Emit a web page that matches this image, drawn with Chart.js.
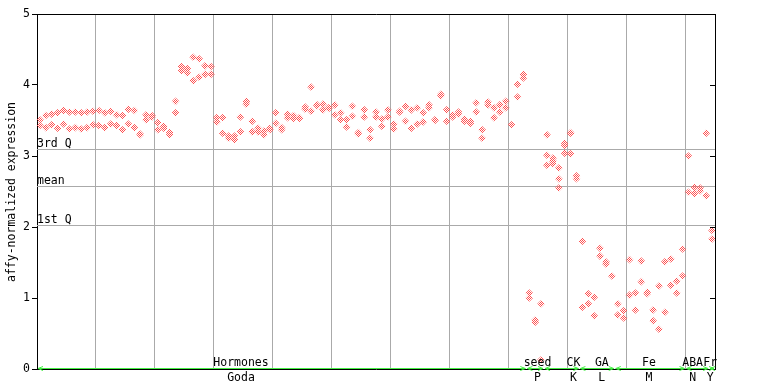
<!DOCTYPE html>
<html><head><meta charset="utf-8">
<script src="https://cdn.jsdelivr.net/npm/chart.js@4"></script>
<style>html,body{margin:0;padding:0;background:#fff;}canvas{display:block;}</style>
</head><body>
<canvas id="c" width="768" height="384"></canvas>
<script>
// ---- data ----
const sampleCount = 115;
const rep1 = [3.51,3.57,3.59,3.61,3.64,3.62,3.62,3.61,3.62,3.63, 3.64,3.61,3.63,3.58,3.57,3.66,3.64,3.31,3.58,3.57,
 3.47,3.42,3.33,3.77,4.26,4.23,4.39,4.37,4.27,4.26, 3.54,3.54,3.28,3.28,3.55,3.77,3.49,3.39,3.35,3.39,
 3.61,3.40,3.59,3.57,3.54,3.69,3.97,3.72,3.73,3.68, 3.72,3.61,3.51,3.70,3.33,3.65,3.37,3.62,3.52,3.65,
 3.45,3.63,3.70,3.65,3.68,3.61,3.72,3.51,3.87,3.65, 3.58,3.62,3.52,3.49,3.75,3.37,3.76,3.68,3.72,3.77,
 3.44,4.01,4.15,1.07,0.69,0.92,3.30,2.97,2.83,3.18, 3.33,2.72,1.80,1.06,1.01,1.70,1.51,1.31,0.92,0.82,
 1.54,1.07,1.52,1.08,0.83,1.17,1.51,1.55,1.24,1.69, 3.00,2.56,2.55,3.32,1.95];
const rep2 = [3.43,3.40,3.44,3.39,3.45,3.38,3.40,3.38,3.40,3.44, 3.43,3.40,3.45,3.43,3.37,3.45,3.40,3.30,3.51,3.55,
 3.37,3.39,3.30,3.61,4.20,4.17,4.06,4.11,4.15,4.15, 3.48,3.32,3.25,3.23,3.34,3.73,3.34,3.34,3.30,3.37,
 3.46,3.37,3.54,3.53,3.53,3.66,3.63,3.71,3.65,3.67, 3.58,3.51,3.41,3.56,3.31,3.55,3.25,3.55,3.42,3.55,
 3.38,3.62,3.49,3.39,3.45,3.48,3.68,3.50,3.85,3.49, 3.55,3.59,3.49,3.46,3.62,3.25,3.72,3.54,3.62,3.68,
 null,3.83,4.10,1.00,0.66,0.13,3.01,2.93,2.68,3.15, 3.32,2.68,0.87,0.92,0.75,1.59,1.48,null,0.76,0.72,
 1.04,0.83,1.23,1.06,0.68,0.56,0.80,1.18,1.07,1.31, 2.49,2.47,2.51,2.44,1.83];
const rep3Index = [86,87,88,89,90];
const rep3Values = [2.87,2.89,2.55,3.04,3.03];

const yTicks = [0,1,2,3,4,5];
const refLabels = ['3rd Q','mean','1st Q'];
const refValues = [3.10, 2.58, 2.03];

const sectionNames = ['Hormones','seed','CK','GA','Fe','ABA','Fr'];
const sectionCodes = ['Goda','P','K','L','M','N','Y'];
const sectionStart = [0,83,86,92,98,110,114];
const sectionEnd   = [82,85,91,97,109,113,114];
const sectionLabelAt = [34.1,84.4,90.5,95.3,103.3,110.7,113.7];
const yTitle = 'affy-normalized expression';

// ---- style ----
const FONT = '11.5px "DejaVu Sans Mono", monospace';
const RED = '#ff5050';
const pc = document.createElement('canvas'); pc.width = 2; pc.height = 2;
const pg = pc.getContext('2d'); pg.fillStyle = RED; pg.fillRect(0,0,1,1); pg.fillRect(1,1,1,1);
const ctxMain = document.getElementById('c').getContext('2d');
const pattern = ctxMain.createPattern(pc, 'repeat');

function pts(arr){ const o=[]; arr.forEach((v,i)=>{ if(v!==null) o.push({x:i,y:v}); }); return o; }
const ds = (data) => ({data, pointStyle:'rectRot', pointRadius:3.8, pointHoverRadius:3.8,
  backgroundColor:pattern, borderWidth:0, showLine:false});

const overlay = {
  id:'overlay',
  beforeDatasetsDraw(chart){
    const {ctx, chartArea:a, scales:{y}} = chart;
    ctx.save();
    ctx.strokeStyle = '#aaaaaa'; ctx.lineWidth = 1;
    ctx.font = FONT; ctx.fillStyle = '#000'; ctx.textAlign='left'; ctx.textBaseline='alphabetic';
    refValues.forEach((v,i)=>{
      const py = Math.round(y.getPixelForValue(v)) + 0.5;
      ctx.beginPath(); ctx.moveTo(a.left, py); ctx.lineTo(a.right, py); ctx.stroke();
      ctx.fillText(refLabels[i], a.left, py - 3);
    });
    ctx.restore();
  },
  afterDraw(chart){
    const {ctx, chartArea:a, scales:{x,y}} = chart;
    ctx.save();
    ctx.strokeStyle = '#000'; ctx.lineWidth = 1;
    // top and right border
    ctx.beginPath();
    ctx.moveTo(a.left, a.top + 0.5); ctx.lineTo(a.right + 0.5, a.top + 0.5);
    ctx.moveTo(a.right + 0.5, a.top); ctx.lineTo(a.right + 0.5, a.bottom + 1);
    ctx.moveTo(a.left, a.bottom + 0.5); ctx.lineTo(a.right + 1, a.bottom + 0.5);
    ctx.stroke();
    // right inward ticks
    ctx.beginPath();
    yTicks.forEach(v=>{
      const py = Math.round(y.getPixelForValue(v)) + 0.5;
      ctx.moveTo(a.right - 5, py); ctx.lineTo(a.right, py);
    });
    ctx.stroke();
    // green section arrows
    ctx.strokeStyle = '#44ee44'; ctx.lineWidth = 1;
    const gy = a.bottom - 0.5;
    sectionStart.forEach((s,i)=>{
      let x0 = x.getPixelForValue(s - 0.5) + 1, x1 = x.getPixelForValue(sectionEnd[i] + 0.5) - 1;
      x0 = Math.max(x0, a.left + 1); x1 = Math.min(x1, a.right - 1);
      ctx.beginPath();
      ctx.moveTo(x0, gy); ctx.lineTo(x1, gy);
      ctx.moveTo(x0 + 5, gy - 2); ctx.lineTo(x0, gy); ctx.lineTo(x0 + 5, gy + 2);
      ctx.moveTo(x1 - 5, gy - 2); ctx.lineTo(x1, gy); ctx.lineTo(x1 - 5, gy + 2);
      ctx.stroke();
    });
    // section labels
    ctx.font = FONT; ctx.fillStyle = '#000'; ctx.textAlign = 'center'; ctx.textBaseline = 'alphabetic';
    sectionNames.forEach((n,i)=>{
      const px = x.getPixelForValue(sectionLabelAt[i]);
      ctx.fillText(n, px, a.bottom - 3);
      ctx.fillText(sectionCodes[i], px, a.bottom + 12);
    });
    // y title
    ctx.translate(12, (a.top + a.bottom)/2 + 0.5);
    ctx.rotate(-Math.PI/2);
    ctx.textBaseline = 'middle';
    ctx.fillText(yTitle, 0, 0);
    ctx.restore();
  }
};

new Chart(ctxMain, {
  type:'scatter',
  data:{datasets:[ds(pts(rep1)), ds(pts(rep2)), ds(rep3Index.map((ix,k)=>({x:ix,y:rep3Values[k]})))]},
  options:{
    responsive:false, animation:false, devicePixelRatio:1,
    layout:{padding:{top:14, right:53, left:0, bottom:0}},
    plugins:{legend:{display:false}, tooltip:{enabled:false}},
    scales:{
      x:{type:'linear', min:-0.5, max:sampleCount-0.5,
         afterBuildTicks(s){ const t=[]; for(let v=9.5; v<sampleCount-1; v+=10) t.push({value:v}); s.ticks=t; },
         afterFit(s){ s.height = 15; },
         ticks:{display:false},
         grid:{color:'#aaaaaa', lineWidth:1, drawTicks:false},
         border:{display:false}},
      y:{type:'linear', min:0, max:5,
         afterBuildTicks(s){ s.ticks = yTicks.map(v=>({value:v})); },
         afterFit(s){ s.width = 37; },
         ticks:{font:{family:'"DejaVu Sans Mono", monospace', size:11.5}, color:'#000', padding:2},
         grid:{drawOnChartArea:false, drawTicks:true, tickLength:5, color:'#000'},
         border:{display:true, color:'#000', width:1}}
    }
  },
  plugins:[overlay]
});
</script>
</body></html>
